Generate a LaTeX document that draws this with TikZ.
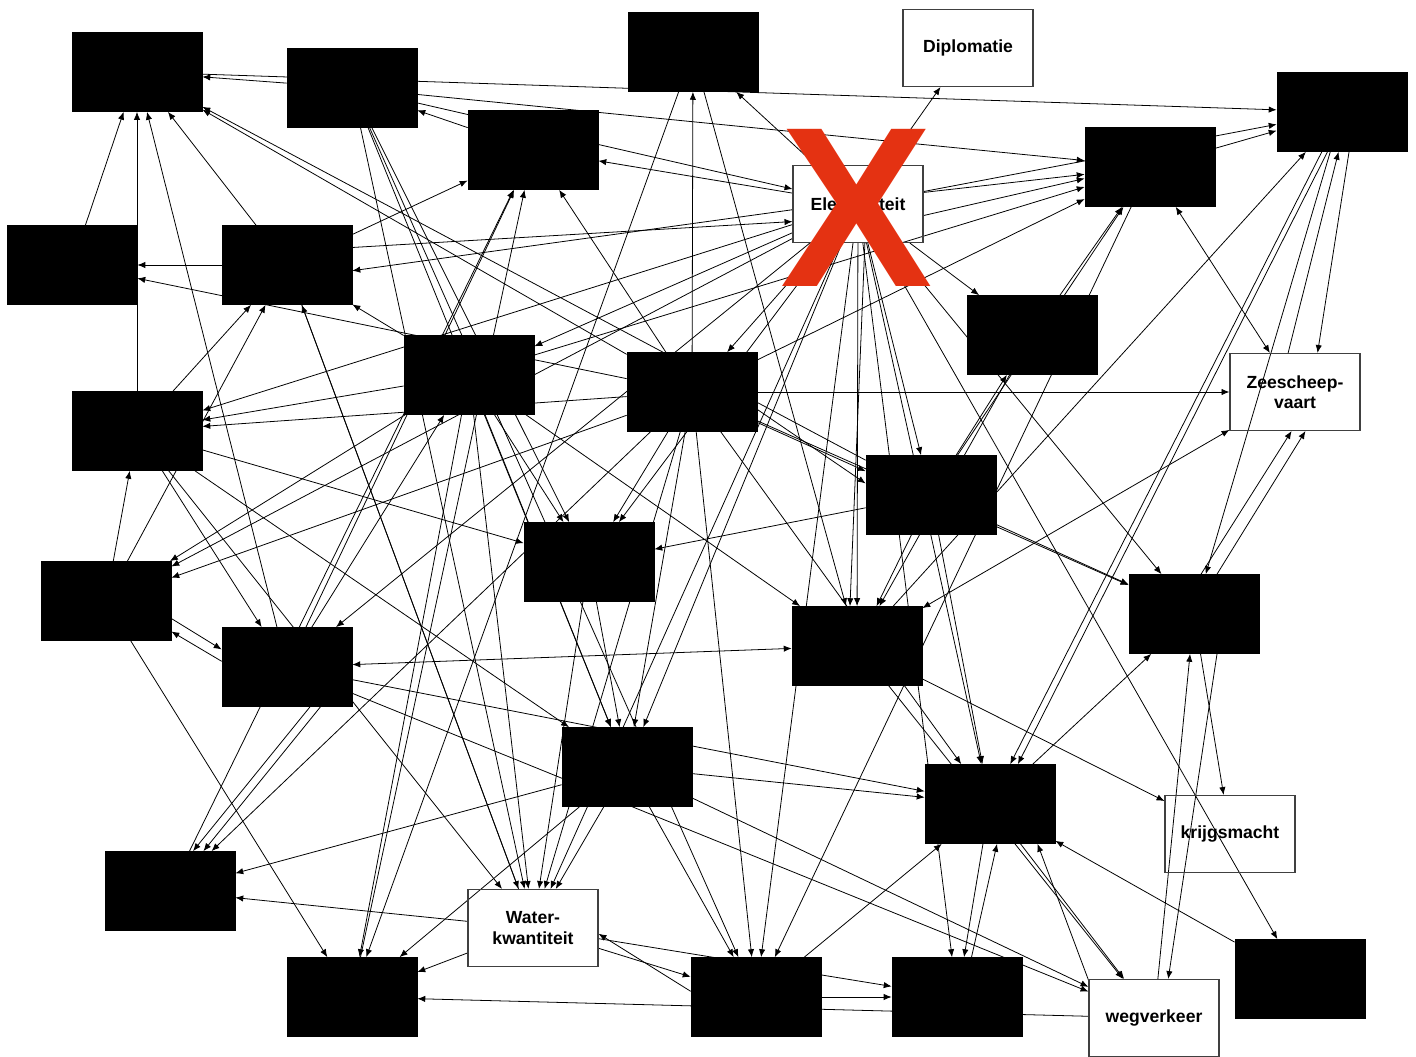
\documentclass[tikz,border=0pt]{standalone}
\usepackage{fontspec}
\setmainfont{Liberation Sans}
\usetikzlibrary{arrows.meta}
\pgfdeclarelayer{bg}
\pgfsetlayers{bg,main}
\definecolor{kruisrood}{RGB}{228,50,18}
\begin{document}
\begin{tikzpicture}[>={Latex[length=4.5pt,width=3.6pt]}, x=0.2mm, y=-0.2mm,
    blk/.style={draw, fill=black, minimum width=26mm, minimum height=15.8mm, inner sep=0pt},
    wit/.style={draw=black!75, line width=0.6pt, minimum width=26mm, minimum height=15.4mm,
      inner sep=0pt, align=center, font=\bfseries\fontsize{10}{11.5}\selectfont},
    pijl/.style={line width=0.45pt}]
\useasboundingbox (0,0) rectangle (1416,1057);
% blokken
\node[blk] (bA) at (137,72) {};
\node[blk] (bB) at (352,88) {};
\node[blk] (bC) at (693,52) {};
\node[wit] (dipl) at (968,48) {Diplomatie};
\node[blk] (bD) at (1342,112) {};
\node[blk] (bE) at (533,150) {};
\node[blk] (bF) at (1150,167) {};
\node[wit] (elek) at (858,204) {Elektriciteit};
\node[blk] (bG) at (72,265) {};
\node[blk] (bH) at (287,265) {};
\node[blk] (bI) at (1032,335) {};
\node[blk] (bJ) at (469,375) {};
\node[blk] (bK) at (692,392) {};
\node[wit] (zee) at (1295,392) {Zeescheep-\\vaart};
\node[blk] (bL) at (137,431) {};
\node[blk] (bM) at (931,495) {};
\node[blk] (bN) at (589,562) {};
\node[blk] (bO) at (106,601) {};
\node[blk] (bP) at (1194,614) {};
\node[blk] (bQ) at (857,646) {};
\node[blk] (bR) at (287,667) {};
\node[blk] (bS) at (627,767) {};
\node[blk] (bT) at (990,804) {};
\node[wit] (krijg) at (1230,834) {krijgsmacht};
\node[blk] (bU) at (170,891) {};
\node[wit] (water) at (533,928) {Water-\\kwantiteit};
\node[blk] (bV) at (1300,979) {};
\node[blk] (bW) at (352,997) {};
\node[blk] (bX) at (756,997) {};
\node[blk] (bY) at (957,997) {};
\node[wit] (weg) at (1154,1018) {wegverkeer};
% verbanden
\begin{pgfonlayer}{bg}
\foreach \a/\b in {bA/bD, bB/bA, bG/bA, bL/bA, bR/bA, bH/bA, bK/bA, bM/bA, bH/bG, bK/bG,
    bB/bF, bE/bB, bK/bC, bC/bW, bC/bQ, elek/bC, elek/dipl, elek/bE, bH.15/elek.195,
    elek.185/bH.-5, bB/elek, elek.10/bF, elek.-10/bF.190, bK/bF, bJ/bF, elek/bD, bF/bD,
    bD.-80/zee.60, zee.100/bD.-95, bD/bT, bD.-110/bT.55, bQ/bD, bD/bP, bP.80/zee.-95,
    bP.60/zee.-75, bI/bF, bM/bF, bH/bE, bR/bE, bU/bE, bW/bE, bK/bE, bB/water, bB/bS,
    bB/bX, bB/bN, elek/bK, elek/bJ, elek/bL, elek/bO, elek/bN, elek/bQ, elek.-80/bQ.100,
    elek/bM, elek/bI, elek/bS, elek/bT, elek/bX, elek/bY, elek/bP, elek/bR, elek/water,
    elek/bV, bK/zee, bK/bL, bK.-15/bM.170, bK.-25/bM.160, bK/bN, bK/bS, bK/water, bK/bU,
    bK/bX, bK/bT, bK/bO, bK/bP, bJ/bL, bJ/bN, bJ/bS, bJ/bQ, bJ/water, bJ/bW, bJ/bH, bJ/bO,
    bR.-60/bU.60, bR.-50/bU.50, bS/bU, water/bU, water/bW, weg/bW, bO.-15/bR.165,
    bR.175/bO.-25, bO/bW, bL/bR, bO/bL, bL/bH, bO/bH, water/bH, bR/bJ, bR/bT, bR/weg,
    bS/weg, bM/bN, bM/bI, bM/bQ, bM/bT, bM/bP, bI/bQ, bQ/krijg, bP/krijg, weg/bP,
    bP.-60/weg.70, bT/bP, bV/bT, bT/weg, bQ/weg, weg.150/bT.-40, bT.-100/bY.80,
    bY.70/bT.-80, bS/bX, water/bX, bX.175/water.-5, bX/bY, water/bY, bN/bS, bN/water,
    bL/bS, bS/bT, bS/water, bS/bW, bL/water, bL/bN, bH/water, bF/bX, bX/bT}
  \draw[pijl,->] (\a) -- (\b);
\foreach \a/\b in {bF/zee, bR/bQ, bQ/zee}
  \draw[pijl,<->] (\a) -- (\b);
\end{pgfonlayer}
% kruis over Elektriciteit
\node[text=kruisrood, font=\bfseries\fontsize{130}{130}\selectfont, inner sep=0pt] (kruis) at (857,208) {X};
\end{tikzpicture}
\end{document}
